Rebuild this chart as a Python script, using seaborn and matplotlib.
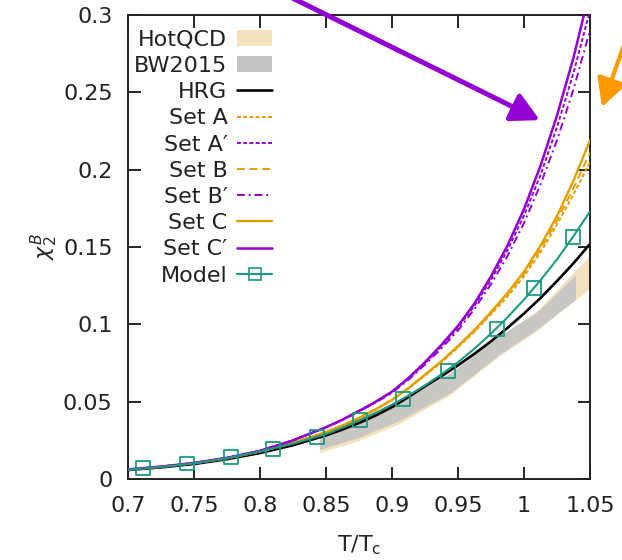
import matplotlib
matplotlib.use("Agg")
import matplotlib.pyplot as plt
from matplotlib.patches import Patch
from matplotlib.lines import Line2D
import seaborn as sns

# ---------------- data ----------------
T = [0.70, 0.725, 0.75, 0.775, 0.80, 0.825, 0.85, 0.8625, 0.875, 0.8875, 0.90, 0.9125,
     0.925, 0.9375, 0.95, 0.9625, 0.975, 0.9875, 1.00, 1.0125, 1.025, 1.0375, 1.05]

hrg    = [0.0058, 0.0075, 0.0097, 0.0128, 0.0168, 0.0218, 0.0282, 0.0320, 0.0362, 0.0410, 0.0465, 0.0530,
          0.0600, 0.0665, 0.0735, 0.0810, 0.0890, 0.0977, 0.1070, 0.1170, 0.1280, 0.1395, 0.1520]
set_a  = [0.0061, 0.0079, 0.0102, 0.0134, 0.0178, 0.0234, 0.0302, 0.0345, 0.0395, 0.0449, 0.0510, 0.0585,
          0.0670, 0.0755, 0.0852, 0.0952, 0.1065, 0.1180, 0.1310, 0.1465, 0.1645, 0.1840, 0.2050]
set_b  = [0.0061, 0.0079, 0.0102, 0.0134, 0.0178, 0.0234, 0.0302, 0.0345, 0.0395, 0.0449, 0.0511, 0.0586,
          0.0672, 0.0758, 0.0856, 0.0957, 0.1072, 0.1191, 0.1325, 0.1485, 0.1672, 0.1880, 0.2110]
set_c  = [0.0061, 0.0079, 0.0102, 0.0134, 0.0178, 0.0234, 0.0302, 0.0345, 0.0395, 0.0450, 0.0512, 0.0588,
          0.0675, 0.0762, 0.0860, 0.0964, 0.1080, 0.1203, 0.1340, 0.1509, 0.1700, 0.1929, 0.2190]
set_ap = [0.0062, 0.0080, 0.0104, 0.0137, 0.0182, 0.0250, 0.0334, 0.0383, 0.0438, 0.0497, 0.0562, 0.0649,
          0.0749, 0.0858, 0.0978, 0.1121, 0.1288, 0.1480, 0.1703, 0.1965, 0.2275, 0.2625, 0.3030]
set_bp = [0.0062, 0.0080, 0.0104, 0.0137, 0.0182, 0.0249, 0.0333, 0.0381, 0.0436, 0.0494, 0.0557, 0.0642,
          0.0739, 0.0845, 0.0960, 0.1100, 0.1260, 0.1442, 0.1655, 0.1905, 0.2190, 0.2520, 0.2900]
set_cp = [0.0062, 0.0080, 0.0104, 0.0137, 0.0182, 0.0250, 0.0335, 0.0384, 0.0440, 0.0499, 0.0565, 0.0653,
          0.0755, 0.0868, 0.0990, 0.1135, 0.1310, 0.1510, 0.1745, 0.2025, 0.2350, 0.2725, 0.3160]
model_line = [0.0060, 0.0078, 0.0101, 0.0135, 0.0178, 0.0228, 0.0290, 0.0332, 0.0378, 0.0427, 0.0480, 0.0540,
              0.0605, 0.0677, 0.0755, 0.0843, 0.0940, 0.1045, 0.1160, 0.1285, 0.1420, 0.1570, 0.1730]

model_T   = [0.7114, 0.7447, 0.7780, 0.8098, 0.8432, 0.8758, 0.9083, 0.9424, 0.9795, 1.0076, 1.0371]
model_chi = [0.0071, 0.0100, 0.0142, 0.0194, 0.0272, 0.0380, 0.0517, 0.0700, 0.0970, 0.1235, 0.1565]

hot_T  = [0.845, 0.875, 0.906, 0.944, 0.982, 1.010, 1.039, 1.050]
hot_lo = [0.017, 0.025, 0.036, 0.0545, 0.080, 0.096, 0.116, 0.123]
hot_hi = [0.031, 0.040, 0.051, 0.068, 0.092, 0.109, 0.135, 0.145]

bw_T  = [0.845, 0.875, 0.906, 0.944, 0.982, 1.010, 1.039]
bw_lo = [0.019, 0.027, 0.038, 0.0556, 0.081, 0.097, 0.116]
bw_hi = [0.030, 0.039, 0.051, 0.0685, 0.093, 0.108, 0.132]

x_ticks = [0.7, 0.75, 0.8, 0.85, 0.9, 0.95, 1.0, 1.05]
x_tick_labels = ["0.7", "0.75", "0.8", "0.85", "0.9", "0.95", "1", "1.05"]
y_ticks = [0, 0.05, 0.1, 0.15, 0.2, 0.25, 0.3]
y_tick_labels = ["0", "0.05", "0.1", "0.15", "0.2", "0.25", "0.3"]

# ---------------- style ----------------
sns.set_style("ticks")
plt.rcParams["font.family"] = ["DejaVu Sans"]
plt.rcParams["mathtext.fontset"] = "dejavusans"
plt.rcParams["text.color"] = "#222222"

ORANGE = "#e69f00"
PURPLE = "#9400d3"
TEAL = "#1a9a80"
BEIGE = "#f3e2bd"
GRAY = "#c4c4c4"
FS = 16

fig = plt.figure(figsize=(6.22, 5.6), dpi=100)
ax = fig.add_axes([128 / 622, 81 / 560, 462 / 622, 464 / 560])

ax.fill_between(hot_T, hot_lo, hot_hi, color=BEIGE, lw=0, zorder=1)
ax.fill_between(bw_T, bw_lo, bw_hi, color=GRAY, alpha=0.9, lw=0, zorder=1.1)

dA = (0, (2.0, 1.2))
dB = (0, (4.0, 2.5))
dBp = (0, (4.0, 2.0, 1.0, 2.0))

sns.lineplot(x=T, y=hrg, ax=ax, color="black", lw=1.9, zorder=3)
sns.lineplot(x=T, y=set_a, ax=ax, color=ORANGE, lw=1.4, linestyle=dA, zorder=3)
sns.lineplot(x=T, y=set_b, ax=ax, color=ORANGE, lw=1.4, linestyle=dB, zorder=3)
sns.lineplot(x=T, y=set_c, ax=ax, color=ORANGE, lw=1.7, zorder=3)
sns.lineplot(x=T, y=set_ap, ax=ax, color=PURPLE, lw=1.4, linestyle=dA, zorder=3)
sns.lineplot(x=T, y=set_bp, ax=ax, color=PURPLE, lw=1.4, linestyle=dBp, zorder=3)
sns.lineplot(x=T, y=set_cp, ax=ax, color=PURPLE, lw=1.8, zorder=3)
sns.lineplot(x=T, y=model_line, ax=ax, color=TEAL, lw=1.5, zorder=4)
sns.scatterplot(x=model_T, y=model_chi, ax=ax, marker="s", s=100,
                facecolors="none", edgecolors=TEAL, linewidths=1.3, zorder=5)

ax.set_xlim(0.7, 1.05)
ax.set_ylim(0, 0.3)
ax.set_xticks(x_ticks)
ax.set_xticklabels(x_tick_labels)
ax.set_yticks(y_ticks)
ax.set_yticklabels(y_tick_labels)
ax.tick_params(direction="in", length=9, width=1.2, top=True, right=True,
               labelsize=FS, colors="black", labelcolor="#222222")
ax.tick_params(axis="x", pad=12)
ax.tick_params(axis="y", pad=11)
for sp in ax.spines.values():
    sp.set_linewidth(1.4)
    sp.set_color("#222222")

ax.set_xlabel(r"T/T$_\mathregular{c}$", fontsize=FS, labelpad=13)
ax.set_ylabel(r"$\chi_2^B$", fontsize=FS, labelpad=2)

handles = [
    Patch(facecolor=BEIGE, edgecolor="none"),
    Patch(facecolor=GRAY, edgecolor="none"),
    Line2D([], [], color="black", lw=1.9),
    Line2D([], [], color=ORANGE, lw=1.4, linestyle=dA),
    Line2D([], [], color=PURPLE, lw=1.4, linestyle=dA),
    Line2D([], [], color=ORANGE, lw=1.4, linestyle=dB),
    Line2D([], [], color=PURPLE, lw=1.4, linestyle=dBp),
    Line2D([], [], color=ORANGE, lw=1.7),
    Line2D([], [], color=PURPLE, lw=1.8),
    Line2D([], [], color=TEAL, lw=1.5, marker="s", ms=9, mfc="none", mec=TEAL, mew=1.2),
]
labels = ["HotQCD", "BW2015", "HRG", "Set A", "Set A\u2032", "Set B", "Set B\u2032",
          "Set C", "Set C\u2032", "Model"]
ax.legend(handles, labels, loc="upper right", bbox_to_anchor=(0.321, 0.978),
          frameon=False, markerfirst=False, fontsize=FS, handlelength=1.55,
          handletextpad=0.45, labelspacing=0.28, borderpad=0.2, borderaxespad=0.0)

ax.annotate("", xy=(1.012, 0.232), xytext=(0.8200, 0.3129),
            arrowprops=dict(arrowstyle="-|>,head_length=1.7,head_width=0.9",
                            color=PURPLE, lw=3.6, mutation_scale=10,
                            shrinkA=0, shrinkB=0),
            annotation_clip=False, zorder=6)
ax.annotate("", xy=(1.0591, 0.2405), xytext=(1.0879, 0.3097),
            arrowprops=dict(arrowstyle="-|>,head_length=1.7,head_width=0.9",
                            color="#ff9900", lw=3.0, mutation_scale=10,
                            shrinkA=0, shrinkB=0),
            annotation_clip=False, zorder=6)

fig.savefig("out.png", dpi=100)
